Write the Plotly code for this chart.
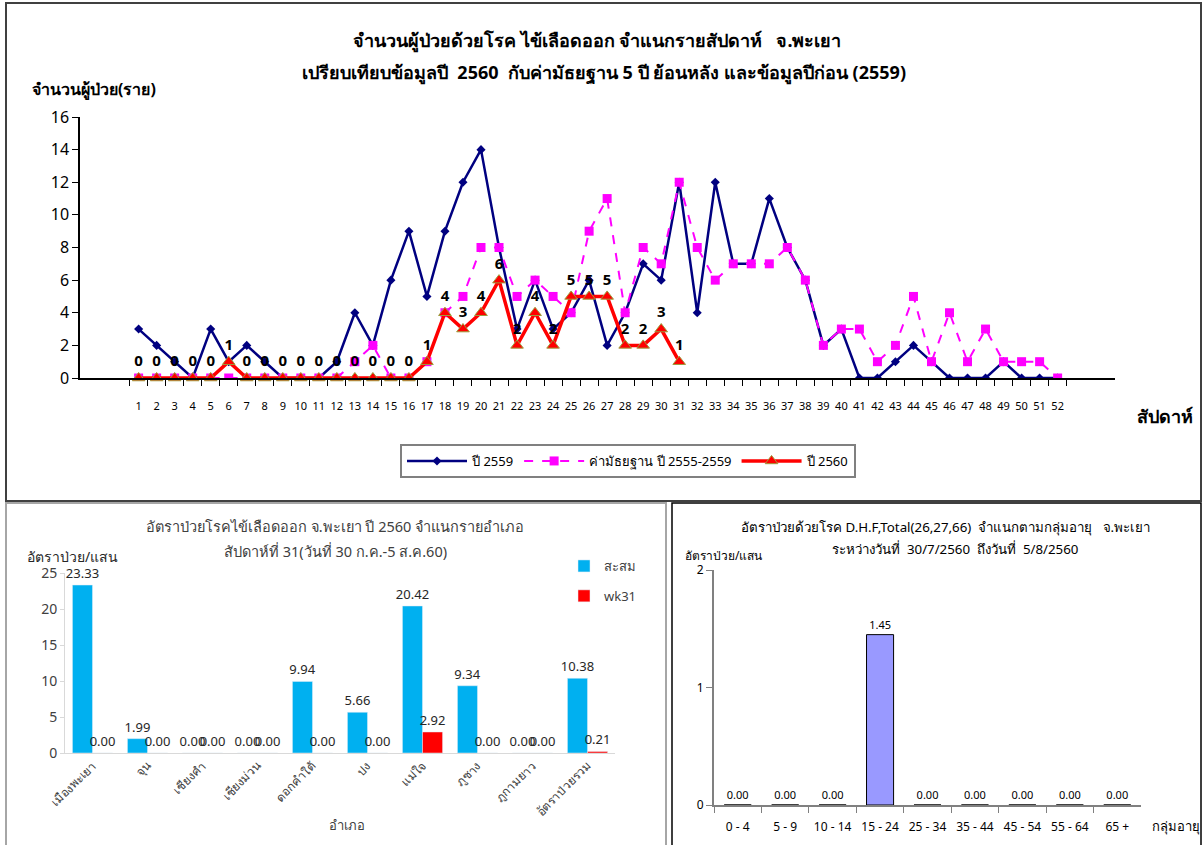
import plotly.graph_objects as go

W, H = 1203, 845

def px(x):
    return x / W

def py(y):
    return 1 - y / H

# ---------------- data: top chart ----------------
weeks = [str(i) for i in range(1, 53)]
y2559 = [3, 2, 1, 0, 3, 1, 2, 1, 0, 0, 0, 1, 4, 2, 6, 9, 5, 9, 12, 14,
         8, 3, 6, 3, 4, 6, 2, 4, 7, 6, 12, 4, 12, 7, 7, 11, 8, 6, 2, 3,
         0, 0, 1, 2, 1, 0, 0, 0, 1, 0, 0, 0]
median_55_59 = [0, 0, 0, 0, 0, 0, 0, 0, 0, 0, 0, 0, 1, 2, 0, 0, 1, 4, 5, 8,
                8, 5, 6, 5, 4, 9, 11, 4, 8, 7, 12, 8, 6, 7, 7, 7, 8, 6, 2, 3,
                3, 1, 2, 5, 1, 4, 1, 3, 1, 1, 1, 0]
y2560 = [0, 0, 0, 0, 0, 1, 0, 0, 0, 0, 0, 0, 0, 0, 0, 0, 1, 4, 3, 4,
         6, 2, 4, 2, 5, 5, 5, 2, 2, 3, 1]

# ---------------- data: bottom-left chart ----------------
districts = ["เมืองพะเยา", "จุน", "เชียงคำ", "เชียงม่วน", "ดอกคำใต้", "ปง",
             "แม่ใจ", "ภูซาง", "ภูกามยาว", "อัตราป่วยรวม"]
cumulative = [23.33, 1.99, 0.00, 0.00, 9.94, 5.66, 20.42, 9.34, 0.00, 10.38]
wk31 = [0.00, 0.00, 0.00, 0.00, 0.00, 0.00, 2.92, 0.00, 0.00, 0.21]

# ---------------- data: bottom-right chart ----------------
age_groups = ["0 - 4", "5 - 9", "10 - 14", "15 - 24", "25 - 34", "35 - 44",
              "45 - 54", "55 - 64", "65 +"]
age_rates = [0.00, 0.00, 0.00, 1.45, 0.00, 0.00, 0.00, 0.00, 0.00]

FONT = "Tahoma, 'Noto Sans', 'DejaVu Sans', sans-serif"

fig = go.Figure()

# top chart traces
fig.add_trace(go.Scatter(
    x=weeks, y=y2559, name="ปี 2559", mode="lines+markers",
    line=dict(color="#000080", width=2.5),
    marker=dict(symbol="diamond", size=7, color="#000080"),
    xaxis="x", yaxis="y", legend="legend"))
fig.add_trace(go.Scatter(
    x=weeks, y=median_55_59, name="ค่ามัธยฐาน ปี 2555-2559", mode="lines+markers",
    line=dict(color="#FF00FF", width=2, dash="dash"),
    marker=dict(symbol="square", size=9, color="#FF00FF"),
    xaxis="x", yaxis="y", legend="legend"))
fig.add_trace(go.Scatter(
    x=weeks[:len(y2560)], y=y2560, name="ปี 2560", mode="lines+markers+text",
    line=dict(color="#FF0000", width=3.5),
    marker=dict(symbol="triangle-up", size=11, color="#FF0000",
                line=dict(color="#9C9C3C", width=1)),
    text=[str(v) for v in y2560], textposition="top center",
    textfont=dict(size=15, color="#000000", family=FONT, weight="bold"),
    cliponaxis=False,
    xaxis="x", yaxis="y", legend="legend"))

# bottom-left bars
fig.add_trace(go.Bar(
    x=districts, y=cumulative, name="สะสม", marker=dict(color="#00B0F0"),
    text=[f"{v:.2f}" for v in cumulative], textposition="outside",
    constraintext="none", legendgroup="g1",
    textfont=dict(size=13, color="#262626"), cliponaxis=False,
    xaxis="x2", yaxis="y2", legend="legend2"))
fig.add_trace(go.Bar(
    x=districts, y=wk31, name="wk31", marker=dict(color="#FF0000"),
    text=[f"{v:.2f}" for v in wk31], textposition="outside",
    constraintext="none", legendgroup="g2",
    textfont=dict(size=13, color="#262626"), cliponaxis=False,
    xaxis="x2", yaxis="y2", legend="legend2"))

# bottom-right bars
fig.add_trace(go.Bar(
    x=age_groups, y=age_rates, name="rate", width=0.57,
    marker=dict(color="#9999FF", line=dict(color="#000000", width=1)),
    text=[f"{v:.2f}" for v in age_rates], textposition="outside",
    constraintext="none",
    textfont=dict(size=11, color="#000000"), cliponaxis=False,
    showlegend=False, xaxis="x3", yaxis="y3"))

shapes = [
    dict(type="rect", xref="paper", yref="paper", x0=px(6), x1=px(1201), y0=py(3), y1=py(501),
         line=dict(color="#404040", width=2)),
    dict(type="rect", xref="paper", yref="paper", x0=px(6), x1=px(666), y0=py(503), y1=py(850),
         line=dict(color="#A6A6A6", width=2)),
    dict(type="rect", xref="paper", yref="paper", x0=px(672), x1=px(1201), y0=py(503), y1=py(850),
         line=dict(color="#000000", width=1.5)),
]

annotations = [
    dict(text="<b>จำนวนผู้ป่วยด้วยโรค ไข้เลือดออก จำแนกรายสัปดาห์   จ.พะเยา</b>",
         x=px(597), y=py(40), font=dict(size=18, color="#000000")),
    dict(text="<b>เปรียบเทียบข้อมูลปี  2560  กับค่ามัธยฐาน 5 ปี ย้อนหลัง และข้อมูลปีก่อน (2559)</b>",
         x=px(604), y=py(72), font=dict(size=18, color="#000000")),
    dict(text="<b>จำนวนผู้ป่วย(ราย)</b>", x=px(30), y=py(90), xanchor="left",
         font=dict(size=16, color="#000000")),
    dict(text="<b>สัปดาห์</b>", x=px(1135), y=py(416), xanchor="left",
         font=dict(size=18, color="#000000")),
    dict(text="อัตราป่วยโรคไข้เลือดออก จ.พะเยา ปี 2560 จำแนกรายอำเภอ",
         x=px(335), y=py(526), font=dict(size=14.5, color="#404040")),
    dict(text="สัปดาห์ที่ 31(วันที่ 30 ก.ค.-5 ส.ค.60)",
         x=px(335), y=py(551), font=dict(size=14.5, color="#404040")),
    dict(text="อัตราป่วย/แสน", x=px(25), y=py(556), xanchor="left",
         font=dict(size=14, color="#262626")),
    dict(text="อำเภอ", x=px(347), y=py(825), font=dict(size=13, color="#404040")),
    dict(text="อัตราป่วยด้วยโรค D.H.F,Total(26,27,66)  จำแนกตามกลุ่มอายุ   จ.พะเยา",
         x=px(946), y=py(527), font=dict(size=13.3, color="#000000")),
    dict(text="ระหว่างวันที่  30/7/2560  ถึงวันที่  5/8/2560",
         x=px(955), y=py(549), font=dict(size=13.3, color="#000000")),
    dict(text="อัตราป่วย/แสน", x=px(683), y=py(555), xanchor="left",
         font=dict(size=12, color="#000000")),
    dict(text="กลุ่มอายุ", x=px(1150), y=py(826), xanchor="left",
         font=dict(size=13, color="#000000")),
]
for a in annotations:
    a.setdefault("xanchor", "center")
    a.update(xref="paper", yref="paper", showarrow=False, yanchor="middle")

fig.update_layout(
    width=W, height=H, margin=dict(l=0, r=0, t=0, b=0, autoexpand=False),
    paper_bgcolor="white", plot_bgcolor="white",
    font=dict(family=FONT, color="#000000"),
    barmode="group", bargap=0.27, bargroupgap=0,
    shapes=shapes, annotations=annotations,
    xaxis=dict(domain=[px(80), px(1115)], anchor="y", type="category",
               tickson="boundaries", ticks="outside", ticklen=6, tickcolor="#000000",
               showline=True, linecolor="#000000", linewidth=1.5, showgrid=False,
               tickangle=0, automargin=False, ticklabelstandoff=17,
               tickfont=dict(size=11, color="#000000")),
    yaxis=dict(domain=[py(378), py(117)], anchor="x", range=[0, 16], dtick=2,
               ticks="outside", ticklen=6, tickcolor="#000000", automargin=False,
               showline=True, linecolor="#000000", linewidth=1.5, showgrid=False,
               zeroline=False, tickfont=dict(size=16, color="#000000")),
    xaxis2=dict(domain=[px(65), px(615)], anchor="y2", type="category",
                showline=True, linecolor="#D9D9D9", linewidth=1, showgrid=False,
                ticks="", tickangle=-45, automargin=False,
                tickfont=dict(size=12, color="#404040")),
    yaxis2=dict(domain=[py(753), py(573)], anchor="x2", range=[0, 25], dtick=5,
                showline=True, linecolor="#D9D9D9", linewidth=1, showgrid=False,
                ticks="outside", ticklen=4, tickcolor="#D9D9D9", zeroline=False,
                automargin=False, tickfont=dict(size=14, color="#404040")),
    xaxis3=dict(domain=[px(714), px(1141)], anchor="y3", type="category",
                tickson="boundaries", ticks="outside", ticklen=6, tickcolor="#808080",
                showline=True, linecolor="#808080", linewidth=2, showgrid=False,
                tickangle=0, automargin=False, ticklabelstandoff=10,
                tickfont=dict(size=12, color="#000000")),
    yaxis3=dict(domain=[py(805), py(570)], anchor="x3", range=[0, 2], dtick=1,
                ticks="outside", ticklen=6, tickcolor="#808080", automargin=False,
                showline=True, linecolor="#808080", linewidth=2, showgrid=False,
                zeroline=False, tickfont=dict(size=12, color="#000000")),
    legend=dict(orientation="h", x=px(400), y=py(444), xanchor="left", yanchor="top",
                bordercolor="#808080", borderwidth=2, font=dict(size=13),
                itemwidth=60, bgcolor="white"),
    legend2=dict(orientation="v", x=px(564), y=py(551), xanchor="left", yanchor="top",
                 font=dict(size=13, color="#404040"), itemwidth=30, tracegroupgap=10,
                 bgcolor="rgba(0,0,0,0)"),
)

fig.write_html("out.html", post_script="document.body.style.margin='0px';",
               config={"displayModeBar": False})
